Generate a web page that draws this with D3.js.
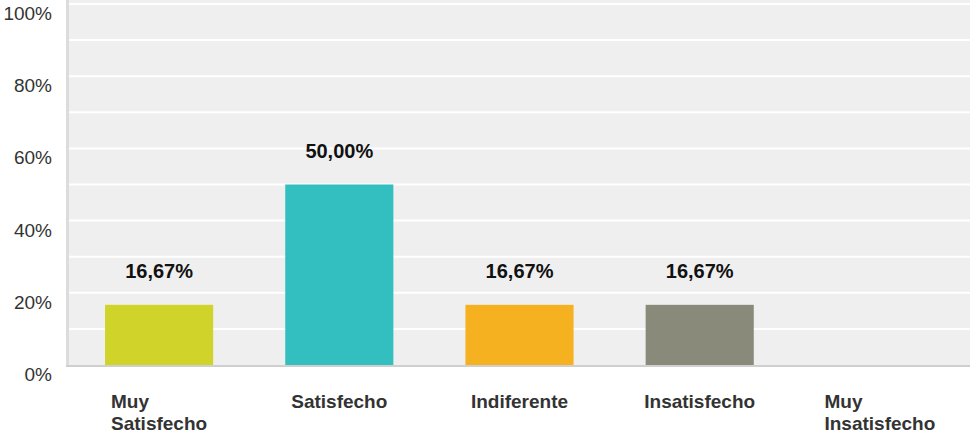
<!DOCTYPE html>
<html><head><meta charset="utf-8">
<script src="https://cdn.jsdelivr.net/npm/d3@7"></script>
<style>body{margin:0;background:#fff;}svg{display:block;font-family:"Liberation Sans",Arial,sans-serif;}</style>
</head><body>
<svg id="c" width="970" height="436"></svg>
<script>
const categories = [["Muy","Satisfecho"],["Satisfecho"],["Indiferente"],["Insatisfecho"],["Muy","Insatisfecho"]];
const values = [16.67, 50.00, 16.67, 16.67, 0];
const colors = ["#d0d32a","#33bfbf","#f5b120","#8a8a7a","#cccccc"];
const yTicks = [0,20,40,60,80,100];

const svg = d3.select("#c");
const pLeft = 69, pRight = 970, pTop = 4, pBottom = 365;
const x = d3.scaleBand().domain(d3.range(categories.length)).range([pLeft, pRight]).paddingInner(0.4).paddingOuter(0.2);
const y = d3.scaleLinear().domain([0,100]).range([pBottom, pTop]);

// background
svg.append("rect").attr("x", pLeft).attr("y", 0).attr("width", pRight-pLeft).attr("height", pBottom).attr("fill", "#efefef");
// gridlines every 10%
svg.append("g").selectAll("line").data(d3.range(10,101,10)).join("line")
  .attr("x1", pLeft).attr("x2", pRight).attr("y1", d=>y(d)).attr("y2", d=>y(d))
  .attr("stroke", "#fff").attr("stroke-width", 2);
// left border
svg.append("rect").attr("x", 66).attr("y", 0).attr("width", 3).attr("height", pBottom+1).attr("fill", "#dcdcdc");
// bottom axis line
svg.append("line").attr("x1", 66).attr("x2", pRight).attr("y1", pBottom+1).attr("y2", pBottom+1).attr("stroke", "#cfcfcf").attr("stroke-width", 2);

// y tick labels
svg.append("g").selectAll("text").data(yTicks).join("text")
  .attr("x", 52).attr("y", d=>y(d)+16).attr("text-anchor","end")
  .attr("font-size", 19).attr("fill", "#333").text(d=>d+"%");

// bars
svg.append("g").selectAll("rect").data(values).join("rect")
  .attr("x", (d,i)=>x(i)).attr("width", x.bandwidth())
  .attr("y", d=>y(d)).attr("height", d=>pBottom-y(d))
  .attr("fill", (d,i)=>colors[i]);

// value labels
svg.append("g").selectAll("text").data(values.map((v,i)=>({v,i})).filter(d=>d.v>0)).join("text")
  .attr("x", d=>x(d.i)+x.bandwidth()/2).attr("y", d=>y(d.v)-27)
  .attr("text-anchor","middle").attr("font-size", 20).attr("font-weight","bold").attr("fill","#111")
  .text(d=>d.v.toFixed(2).replace(".",",")+"%");

// category labels: left-aligned block centred on band
const cg = svg.append("g").selectAll("text").data(categories).join("text")
  .attr("y", 408)
  .attr("font-size", 19).attr("font-weight","bold").attr("fill","#333");
cg.selectAll("tspan").data(d=>d).join("tspan")
  .attr("dy", (d,j)=>j===0?0:22).text(d=>d);
cg.each(function(d,i){
  const t = d3.select(this);
  let maxW = 0;
  t.selectAll("tspan").each(function(){ maxW = Math.max(maxW, this.getComputedTextLength()); });
  const cx = x(i) + x.bandwidth()/2 - maxW/2;
  t.selectAll("tspan").attr("x", cx);
});
</script>
</body></html>
